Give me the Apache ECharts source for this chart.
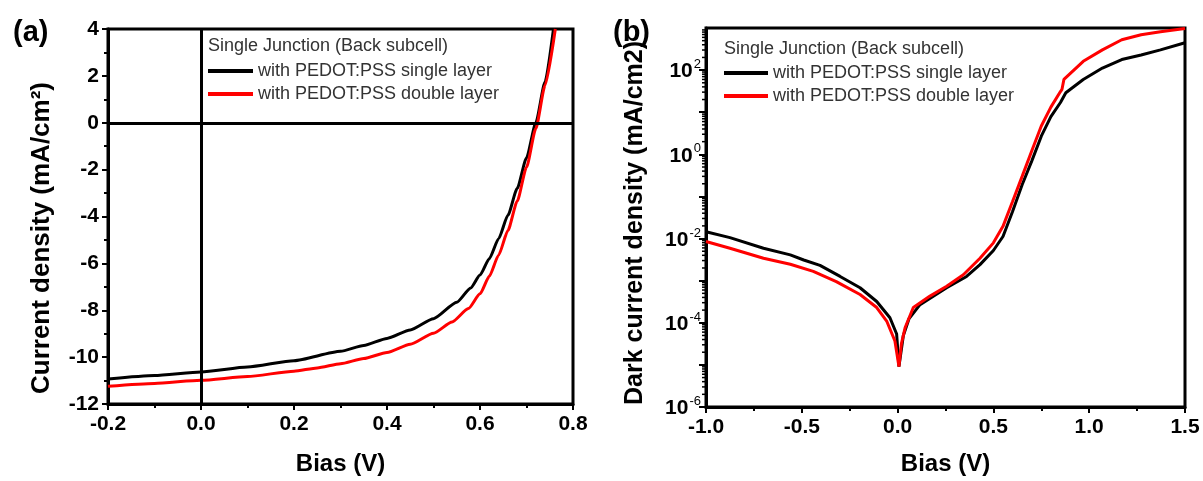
<!DOCTYPE html>
<html>
<head>
<meta charset="utf-8">
<script src="https://cdn.jsdelivr.net/npm/echarts@6/dist/echarts.min.js"></script>
<style>
html,body{margin:0;padding:0;background:#fff;}
#chart{width:1203px;height:481px;}
</style>
</head>
<body>
<div id="chart"></div>
<script>
// ---- Panel (a): J-V under illumination ----
const jvBiasSingle = [-0.2, -0.1, 0.0, 0.1, 0.2, 0.3, 0.35, 0.4, 0.45, 0.5, 0.55, 0.58, 0.6, 0.62, 0.64, 0.66, 0.68, 0.7, 0.72, 0.74, 0.758];
const jvSingle     = [-10.93, -10.78, -10.63, -10.42, -10.15, -9.75, -9.5, -9.2, -8.84, -8.36, -7.66, -7.05, -6.5, -5.8, -4.95, -3.95, -2.8, -1.5, 0.0, 1.75, 4.0];
const jvBiasDouble = [-0.2, -0.1, 0.0, 0.1, 0.2, 0.25, 0.3, 0.35, 0.4, 0.45, 0.5, 0.54, 0.575, 0.6, 0.62, 0.64, 0.66, 0.68, 0.7, 0.72, 0.74, 0.762];
const jvDouble     = [-11.24, -11.12, -10.99, -10.83, -10.6, -10.46, -10.28, -10.06, -9.8, -9.45, -8.98, -8.5, -7.93, -7.3, -6.55, -5.65, -4.6, -3.35, -1.9, -0.25, 1.6, 4.0];

// ---- Panel (b): dark current (log) ----
const darkBiasSingle = [-1.0, -0.875, -0.7, -0.56, -0.49, -0.405, -0.3, -0.196, -0.109, -0.04, -0.005, 0.007, 0.03, 0.06, 0.117, 0.256, 0.36, 0.43, 0.5, 0.55, 0.6, 0.65, 0.7, 0.75, 0.8, 0.85, 0.878, 0.969, 1.069, 1.17, 1.271, 1.372, 1.5];
const darkSingle     = [1.45e-2, 1.05e-2, 5.9e-3, 4.1e-3, 3.1e-3, 2.3e-3, 1.26e-3, 6.8e-4, 3.2e-4, 1.32e-4, 5.4e-5, 9.1e-6, 5.0e-5, 1.26e-4, 2.7e-4, 6.8e-4, 1.26e-3, 2.4e-3, 5.2e-3, 1.12e-2, 4.4e-2, 0.19, 0.69, 2.7, 7.9, 17, 29, 60, 112, 178, 229, 302, 447];
const darkBiasDouble = [-1.0, -0.875, -0.7, -0.56, -0.44, -0.32, -0.196, -0.109, -0.057, -0.014, 0.007, 0.02, 0.039, 0.082, 0.169, 0.256, 0.343, 0.43, 0.5, 0.55, 0.6, 0.65, 0.7, 0.75, 0.8, 0.85, 0.858, 0.868, 0.969, 1.069, 1.17, 1.271, 1.372, 1.5];
const darkDouble     = [8.5e-3, 5.9e-3, 3.4e-3, 2.45e-3, 1.66e-3, 9.5e-4, 4.7e-4, 2.3e-4, 1.1e-4, 3.7e-5, 9.1e-6, 3.2e-5, 7.6e-5, 2.3e-4, 4.3e-4, 7.4e-4, 1.38e-3, 3.4e-3, 7.9e-3, 1.95e-2, 7.6e-2, 0.30, 1.2, 4.7, 13.2, 31, 35, 60, 162, 302, 525, 692, 813, 977];

// tick labels
const jvXTicks = ['-0.2', '0.0', '0.2', '0.4', '0.6', '0.8'];
const jvYTicks = ['-12', '-10', '-8', '-6', '-4', '-2', '0', '2', '4'];
const darkXTicks = ['-1.0', '-0.5', '0.0', '0.5', '1.0', '1.5'];
const darkYExponents = [-6, -4, -2, 0, 2];

const nameSingle = 'with PEDOT:PSS single layer';
const nameDouble = 'with PEDOT:PSS double layer';
const legendHeader = 'Single Junction (Back subcell)';

// minor tick values for the log axis (axis decoration, 2..9 x 10^n)
const logMinorTicks = [];
for (let e = -6; e < 3; e++) { for (let k = 2; k <= 9; k++) logMinorTicks.push([k * Math.pow(10, e)]); }

function zip(xs, ys) { return xs.map((x, i) => [x, ys[i]]); }

const FONT = '"Liberation Sans", Arial, sans-serif';
const tickFont = { fontFamily: FONT, fontSize: 21, fontWeight: 'bold', color: '#000' };

const chart = echarts.init(document.getElementById('chart'), null, { renderer: 'canvas' });

const axisLine = { show: true, onZero: false, lineStyle: { color: '#000', width: 3 } };
const legendText = { fontFamily: FONT, fontSize: 18, fontWeight: 'normal', color: '#333' };

const option = {
  animation: false,
  backgroundColor: '#fff',
  grid: [
    { left: 108, top: 29, width: 465, height: 378, show: true, borderColor: '#000', borderWidth: 3, backgroundColor: 'transparent' },
    { left: 706, top: 28, width: 479, height: 382, show: true, borderColor: '#000', borderWidth: 3, backgroundColor: 'transparent' }
  ],
  title: [
    { text: '(a)', left: 8, top: 13, textStyle: { fontFamily: FONT, fontSize: 29, fontWeight: 'bold', color: '#000' } },
    { text: '(b)', left: 608, top: 13, textStyle: { fontFamily: FONT, fontSize: 29, fontWeight: 'bold', color: '#000' } },
    { text: legendHeader, left: 208, top: 37, padding: 0, textStyle: legendText },
    { text: legendHeader, left: 724, top: 40, padding: 0, textStyle: legendText }
  ],
  legend: [
    { data: [nameSingle, nameDouble], icon: 'rect', orient: 'vertical', left: 208, top: 62, padding: 0, itemGap: 5, itemWidth: 45, itemHeight: 4,
      textStyle: legendText, selectedMode: false },
    { data: [nameSingle, nameDouble], icon: 'rect', orient: 'vertical', left: 724, top: 64, padding: 0, itemGap: 5, itemWidth: 44, itemHeight: 4,
      textStyle: legendText, selectedMode: false }
  ],
  xAxis: [
    { type: 'value', gridIndex: 0, min: -0.2, max: 0.8, interval: 0.2,
      axisLine: axisLine, splitLine: { show: false },
      axisTick: { show: true, inside: false, length: 6, lineStyle: { width: 2, color: '#000' } },
      minorTick: { show: true, splitNumber: 2, length: 4, lineStyle: { width: 2, color: '#000' } },
      axisLabel: Object.assign({ margin: 10, formatter: v => jvXTicks[Math.round((v + 0.2) / 0.2)] }, tickFont),
      name: 'Bias (V)', nameLocation: 'middle', nameGap: 48,
      nameTextStyle: { fontFamily: FONT, fontSize: 24, fontWeight: 'bold', color: '#000' } },
    { type: 'value', gridIndex: 1, min: -1, max: 1.5, interval: 0.5,
      axisLine: axisLine, splitLine: { show: false },
      axisTick: { show: true, inside: false, length: 6, lineStyle: { width: 2, color: '#000' } },
      minorTick: { show: true, splitNumber: 2, length: 4, lineStyle: { width: 2, color: '#000' } },
      axisLabel: Object.assign({ margin: 10, formatter: v => darkXTicks[Math.round((v + 1) / 0.5)] }, tickFont),
      name: 'Bias (V)', nameLocation: 'middle', nameGap: 45,
      nameTextStyle: { fontFamily: FONT, fontSize: 24, fontWeight: 'bold', color: '#000' } }
  ],
  yAxis: [
    { type: 'value', gridIndex: 0, min: -12, max: 4, interval: 2,
      axisLine: axisLine, splitLine: { show: false },
      axisTick: { show: true, inside: false, length: 6, lineStyle: { width: 2, color: '#000' } },
      minorTick: { show: true, splitNumber: 2, length: 4, lineStyle: { width: 2, color: '#000' } },
      axisLabel: Object.assign({ margin: 9, formatter: v => jvYTicks[Math.round((v + 12) / 2)] }, tickFont) },
    { type: 'log', logBase: 10, gridIndex: 1, min: 1e-6, max: 1e3, interval: 1,
      axisLine: axisLine, splitLine: { show: false },
      axisTick: { show: true, inside: false, length: 7, lineStyle: { width: 2, color: '#000' } },
      axisLabel: {
        margin: 5, showMaxLabel: false,
        formatter: v => {
          const e = Math.round(Math.log10(v));
          return darkYExponents.indexOf(e) >= 0 ? '{b|10}{s|' + e + '}' : '';
        },
        rich: {
          b: { fontFamily: FONT, fontSize: 21, fontWeight: 'bold', color: '#000', verticalAlign: 'bottom', lineHeight: 24 },
          s: { fontFamily: FONT, fontSize: 13, color: '#000', verticalAlign: 'top', lineHeight: 24, padding: [0, 0, 12, 1] }
        }
      } }
  ],
  graphic: [
    { type: 'text', x: 42, y: 238, rotation: Math.PI / 2,
      style: { text: 'Current density (mA/cm²)', font: 'bold 26px ' + FONT, fill: '#000', align: 'center', verticalAlign: 'middle' } },
    { type: 'text', x: 635, y: 223, rotation: Math.PI / 2,
      style: { text: 'Dark current density (mA/cm2)', font: 'bold 25px ' + FONT, fill: '#000', align: 'center', verticalAlign: 'middle' } }
  ],
  series: [
    { name: nameSingle, type: 'line', xAxisIndex: 0, yAxisIndex: 0, data: zip(jvBiasSingle, jvSingle),
      showSymbol: false, symbol: 'none', smooth: 0.2, smoothMonotone: 'x', clip: true,
      lineStyle: { color: '#000', width: 3 }, itemStyle: { color: '#000' }, z: 3,
      markLine: { silent: true, symbol: 'none', animation: false, label: { show: false },
        lineStyle: { color: '#000', width: 3, type: 'solid' },
        data: [{ xAxis: 0 }, { yAxis: 0 }] } },
    { name: nameDouble, type: 'line', xAxisIndex: 0, yAxisIndex: 0, data: zip(jvBiasDouble, jvDouble),
      showSymbol: false, symbol: 'none', smooth: 0.2, smoothMonotone: 'x', clip: true,
      lineStyle: { color: '#ff0000', width: 3 }, itemStyle: { color: '#ff0000' }, z: 4 },
    { name: nameSingle, type: 'line', xAxisIndex: 1, yAxisIndex: 1, data: zip(darkBiasSingle, darkSingle),
      showSymbol: false, symbol: 'none', clip: true,
      lineStyle: { color: '#000', width: 3 }, itemStyle: { color: '#000' }, z: 3 },
    { name: nameDouble, type: 'line', xAxisIndex: 1, yAxisIndex: 1, data: zip(darkBiasDouble, darkDouble),
      showSymbol: false, symbol: 'none', clip: true,
      lineStyle: { color: '#ff0000', width: 3 }, itemStyle: { color: '#ff0000' }, z: 4 },
    { type: 'custom', xAxisIndex: 1, yAxisIndex: 1, silent: true, data: logMinorTicks,
      renderItem: (params, api) => {
        const p = api.coord([-1, api.value(0)]);
        return { type: 'line', shape: { x1: p[0] - 4, y1: p[1], x2: p[0], y2: p[1] },
                 style: { stroke: '#000', lineWidth: 1.5 } };
      } }
  ]
};
chart.setOption(option);
</script>
</body>
</html>
